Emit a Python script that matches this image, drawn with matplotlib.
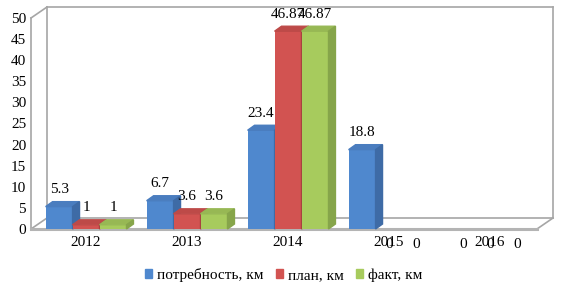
import numpy as np
import matplotlib.pyplot as plt
from matplotlib.patches import Polygon, Patch

plt.rcParams['font.family'] = ['Liberation Serif', 'DejaVu Serif']
plt.rcParams['font.size'] = 11

years = ['2012', '2013', '2014', '2015', '2016']
need = [5.3, 6.7, 23.4, 18.8, 0]
plan = [1, 3.6, 46.87, 0, 0]
fact = [1, 3.6, 46.87, 0, 0]
labels = ['потребность, км', 'план, км', 'факт, км']

# front, top, side colours
colors = [('#4F88CE', '#4A7DBF', '#3E6BA6'),
          ('#D25351', '#BD4A48', '#A8413F'),
          ('#A7CB5D', '#97B854', '#86A54A')]

fig = plt.figure(figsize=(5.67, 2.88), dpi=100)
ax = fig.add_axes([31 / 567, 59 / 288, 506 / 567, 211 / 288])
xl, xr = -0.545, 4.465
ax.set_xlim(xl, xr)
ax.set_ylim(0, 50)

# walls / floor
dxw, dyw = 0.158, 2.6
wall = '#A6A6A6'
segs = [((xl, xl), (0, 50)),
        ((xl, xl + dxw), (50, 50 + dyw)),
        ((xl + dxw, xl + dxw), (dyw, 50 + dyw)),
        ((xl + dxw, xr + dxw), (50 + dyw, 50 + dyw)),
        ((xr + dxw, xr + dxw), (dyw, 50 + dyw)),
        ((xl + dxw, xr + dxw), (dyw, dyw)),
        ((xl, xl + dxw), (0, dyw)),
        ((xr, xr + dxw), (0, dyw))]
for sx, sy in segs:
    ax.plot(sx, sy, color=wall, lw=1.2, clip_on=False, zorder=1)
ax.plot((xl, xr), (0, 0), color='#B4B4B4', lw=2.2, clip_on=False, zorder=1)

x = np.arange(len(years))
w = 0.267
dx, dy = 0.069, 1.18
z = 3
for i, x0 in enumerate(x):
    for j, vals in enumerate([need, plan, fact]):
        v = vals[i]
        front, top, side = colors[j]
        left = x0 + (j - 1) * w - w / 2
        if v > 0:
            ax.bar(left, v, width=w, align='edge', color=front, zorder=z)
            ax.add_patch(Polygon([(left, v), (left + w, v), (left + w + dx, v + dy),
                                  (left + dx, v + dy)], closed=True, color=top,
                                 zorder=z, clip_on=False))
            ax.add_patch(Polygon([(left + w, 0), (left + w + dx, dy),
                                  (left + w + dx, v + dy), (left + w, v)],
                                 closed=True, color=side, zorder=z, clip_on=False))
            ax.annotate(f'{v:g}', (left + w / 2, v), xytext=(0, 17),
                        textcoords='offset pixels', ha='center', va='center',
                        zorder=20, annotation_clip=False)
        else:
            ax.annotate('0', (left + w / 2, 0), xytext=(0, -16),
                        textcoords='offset pixels', ha='center', va='center',
                        zorder=20, annotation_clip=False)
        z += 1

ax.set_xticks(x)
ax.set_xticklabels(years)
ax.set_yticks(range(0, 51, 5))
ax.tick_params(axis='both', length=0, labelsize=11, colors='black')
ax.tick_params(axis='y', pad=3.5)
ax.tick_params(axis='x', pad=5)
for s in ax.spines.values():
    s.set_visible(False)

handles = [Patch(color=c[0]) for c in colors]
fig.legend(handles, labels, loc='center', bbox_to_anchor=(0.5, 13 / 288), ncol=3,
           frameon=False, handlelength=0.5, handleheight=0.5,
           handletextpad=0.3, columnspacing=0.8)

fig.savefig('out.png', dpi=100)
